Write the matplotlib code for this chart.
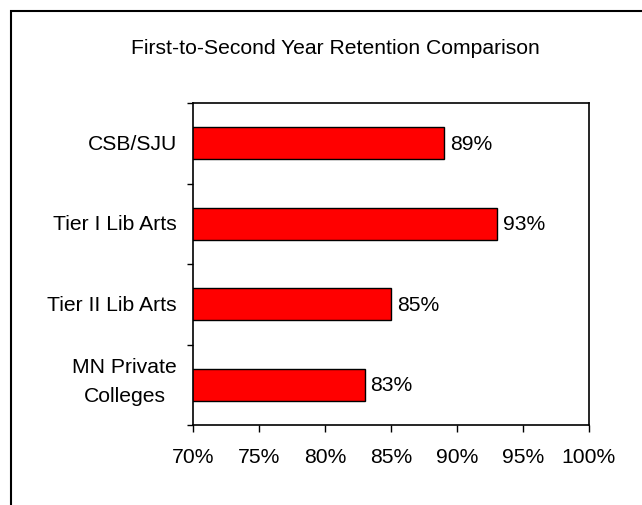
import matplotlib
matplotlib.use('Agg')
import matplotlib.pyplot as plt
import matplotlib.transforms as mtransforms
from matplotlib.patches import Rectangle
from matplotlib.ticker import MultipleLocator, FuncFormatter

# Data
categories = ['CSB/SJU', 'Tier I Lib Arts', 'Tier II Lib Arts', 'MN Private\nColleges']
retention = [89, 93, 85, 83]
xticks = [70, 75, 80, 85, 90, 95, 100]

plt.rcParams['font.family'] = ['Liberation Sans', 'DejaVu Sans']
FS = 15.2

fig = plt.figure(figsize=(6.42, 5.06), dpi=100)
fig.patch.set_facecolor('white')

# outer frame (cut off at right and bottom like the reference)
frame = Rectangle((11 / 642, -0.1), 1.2, 1.1 - 12 / 506,
                  transform=fig.transFigure, fill=False,
                  edgecolor='black', linewidth=1.5)
fig.patches.append(frame)

ax = fig.add_axes([193 / 642, 1 - 426 / 506, (589 - 193) / 642, (426 - 104) / 506])

ypos = list(range(len(categories)))[::-1]
ax.barh(ypos, retention, left=0, height=0.4, color='#ff0000',
        edgecolor='black', linewidth=1.0)

for y, v in zip(ypos, retention):
    ax.text(v + 0.45, y, f'{v}%', va='center', ha='left', fontsize=FS)

ax.set_xlim(70, 100)
ax.set_ylim(-0.5, len(categories) - 0.5)
ax.set_xticks(xticks)
ax.xaxis.set_major_formatter(FuncFormatter(lambda v, p: f'{v:.0f}%'))

# category labels drawn as text, tick marks at category boundaries
ax.set_yticks([])
ax.yaxis.set_minor_locator(MultipleLocator(1, offset=0.5))
ax.tick_params(axis='y', which='minor', length=6.5 * 0.72, width=1.0,
               direction='out')
lab_tr = ax.get_yaxis_transform() + mtransforms.ScaledTranslation(-16 / 100, 0, fig.dpi_scale_trans)
for y, lab in zip(ypos, categories):
    dy = 4 / 100 if '\n' in lab else 0
    ax.text(0, y, lab, ha='right', va='center', fontsize=FS,
            multialignment='center', linespacing=1.65,
            transform=lab_tr + mtransforms.ScaledTranslation(0, dy, fig.dpi_scale_trans))

ax.tick_params(axis='x', which='major', length=6.5 * 0.72, width=1.0,
               direction='out', labelsize=FS, pad=11)

for s in ax.spines.values():
    s.set_linewidth(1.2)
    s.set_color('black')

fig.text(335 / 642, 1 - 48 / 506, 'First-to-Second Year Retention Comparison',
         ha='center', va='center', fontsize=FS)

plt.savefig('out.png', dpi=100)
